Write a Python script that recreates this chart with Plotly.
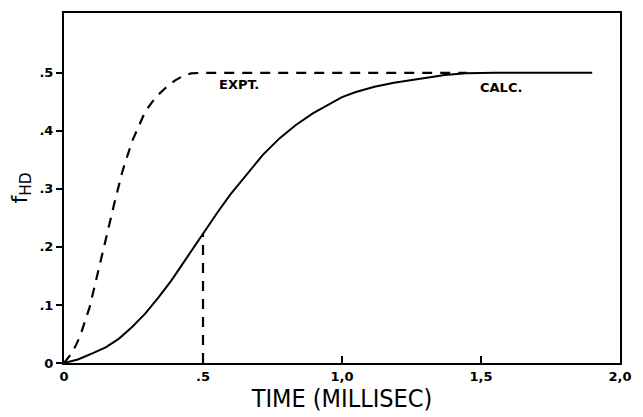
import plotly.graph_objects as go

# Experimental curve (dashed)
expt_t = [0.0, 0.030, 0.057, 0.092, 0.121, 0.151, 0.180, 0.210, 0.245, 0.292, 0.330, 0.363, 0.400, 0.430, 0.457, 0.50, 0.55, 1.0, 1.45]
expt_f = [0.0, 0.018, 0.045, 0.096, 0.154, 0.216, 0.273, 0.330, 0.382, 0.433, 0.458, 0.473, 0.487, 0.495, 0.499, 0.5, 0.5, 0.5, 0.5]

# Calculated curve (solid)
calc_t = [0.0, 0.050, 0.104, 0.150, 0.198, 0.245, 0.292, 0.340, 0.386, 0.440, 0.498, 0.550, 0.598, 0.660, 0.716, 0.775, 0.834, 0.895, 0.952, 1.000, 1.050, 1.117, 1.187, 1.293, 1.370, 1.446, 1.55, 1.90]
calc_f = [0.0, 0.006, 0.017, 0.027, 0.042, 0.062, 0.085, 0.113, 0.142, 0.180, 0.223, 0.258, 0.290, 0.326, 0.359, 0.387, 0.410, 0.430, 0.446, 0.458, 0.467, 0.476, 0.483, 0.491, 0.496, 0.499, 0.5, 0.5]

# Drop line from the calculated curve at t = 0.5
drop_t = [0.5, 0.5]
drop_f = [0.0, 0.223]

x_ticks = [0, 0.5, 1.0, 1.5, 2.0]
x_labels = ["0", ".5", "1,0", "1,5", "2,0"]
y_ticks = [0, 0.1, 0.2, 0.3, 0.4, 0.5]
y_labels = ["0", ".1", ".2", ".3", ".4", ".5"]

tick_font = dict(family="DejaVu Sans", size=13, color="black", weight="bold")
dash_style = "10px,8px"

fig = go.Figure()
fig.add_trace(go.Scatter(x=expt_t, y=expt_f, mode="lines", line_shape="linear",
                         line=dict(color="black", width=2.2, dash=dash_style)))
fig.add_trace(go.Scatter(x=calc_t, y=calc_f, mode="lines", line_shape="linear",
                         line=dict(color="black", width=2)))
fig.add_trace(go.Scatter(x=drop_t, y=drop_f, mode="lines",
                         line=dict(color="black", width=2.2, dash=dash_style)))

label_font = dict(family="DejaVu Sans", size=13, color="black", weight="bold")
fig.add_annotation(x=0.55, y=0.480, text="EXPT.", showarrow=False,
                   xanchor="left", yanchor="middle", font=label_font)
fig.add_annotation(x=1.49, y=0.475, text="CALC.", showarrow=False,
                   xanchor="left", yanchor="middle", font=label_font)

fig.update_layout(
    width=643, height=417,
    margin=dict(l=64, r=13, t=11, b=54),
    paper_bgcolor="white", plot_bgcolor="white",
    showlegend=False,
    xaxis=dict(range=[0, 2.0], tickvals=x_ticks, ticktext=x_labels,
               ticks="inside", ticklen=7, tickwidth=2, tickcolor="black",
               showgrid=False, zeroline=False,
               showline=True, linecolor="black", linewidth=2, mirror=True,
               tickfont=tick_font,
               title=dict(text="TIME (MILLISEC)", standoff=3,
                          font=dict(family="DejaVu Sans Condensed", size=25, color="black"))),
    yaxis=dict(range=[0, 0.603], tickvals=y_ticks, ticktext=y_labels,
               ticks="outside", ticklen=6, tickwidth=2, tickcolor="black",
               showgrid=False, zeroline=False,
               showline=True, linecolor="black", linewidth=2, mirror=True,
               tickfont=tick_font,
               title=dict(text="f<sub>HD</sub>", standoff=6,
                          font=dict(family="DejaVu Sans", size=22, color="black"))),
)

fig.write_html("out.html")
